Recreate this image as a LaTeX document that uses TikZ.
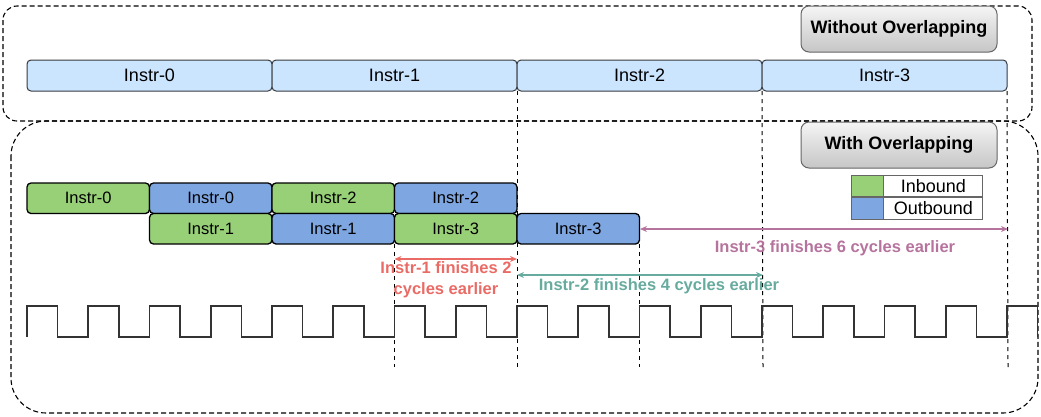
\documentclass[tikz,border=0pt]{standalone}
\usepackage{fontspec}
\setmainfont{Liberation Sans}
\usetikzlibrary{arrows.meta}
\definecolor{barblue}{HTML}{CCE5FF}
\definecolor{ingreen}{HTML}{97D077}
\definecolor{outblue}{HTML}{7EA6E0}
\definecolor{edgegray}{HTML}{36393D}
\definecolor{btnedge}{HTML}{666666}
\definecolor{redlbl}{HTML}{EA6B66}
\definecolor{greenlbl}{HTML}{67AB9F}
\definecolor{purplelbl}{HTML}{B5739D}
\definecolor{clockcol}{HTML}{333333}
\begin{document}
\begin{tikzpicture}[x=1pt,y=-1pt,
  frame/.style={draw=black, line width=1.1pt, dash pattern=on 5pt off 3pt},
  guide/.style={draw=black, line width=1pt, dash pattern=on 4pt off 4pt},
  bar/.style={draw=edgegray, fill=barblue, line width=1pt, rounded corners=4pt,
    minimum width=245pt, minimum height=31pt, inner sep=0pt, outer sep=0pt,
    font=\fontsize{18}{20}\selectfont},
  stage/.style={draw=black, line width=1.3pt, rounded corners=4pt,
    minimum width=122.5pt, minimum height=30.5pt, inner sep=0pt, outer sep=0pt,
    font=\fontsize{16.5}{18}\selectfont},
  inb/.style={stage, fill=ingreen},
  outb/.style={stage, fill=outblue},
  button/.style={draw=btnedge, line width=1pt, rounded corners=8pt,
    top color=gray!8, bottom color=gray!45,
    minimum width=196pt, minimum height=46pt, inner sep=0pt,
    font=\fontsize{18}{20}\selectfont\bfseries},
  legcell/.style={draw=btnedge, line width=0.8pt, minimum height=21.5pt,
    inner sep=0pt, font=\fontsize{18}{20}\selectfont},
  span/.style={{Stealth[length=7pt,width=6pt]}-{Stealth[length=7pt,width=6pt]}, line width=1.3pt},
  note/.style={font=\fontsize{16.5}{21}\selectfont\bfseries, align=center, inner sep=0pt},
  clock/.style={draw=clockcol, line width=1.6pt, line join=miter}
]
\useasboundingbox (0,0) rectangle (1041,416);

% group frames
\draw[frame, rounded corners=14pt] (3,6) rectangle (1032,121);
\draw[frame, rounded corners=35pt] (11,121) rectangle (1038,413);

% sequential execution bar
\node[bar] (t0) at (149.5,75.5) {Instr-0};
\node[bar] (t1) at (394.5,75.5) {Instr-1};
\node[bar] (t2) at (639.5,75.5) {Instr-2};
\node[bar] (t3) at (884.5,75.5) {Instr-3};

% guide lines down to the clock
\coordinate (gb1) at (517,367);
\coordinate (gb2) at (763,367);
\coordinate (gb3) at (1008,367);
\coordinate (gb4) at (394.5,367);
\coordinate (gb5) at (639.5,367);
\draw[guide] (t1.south east) -- (gb1);
\draw[guide] (t2.south east) -- (gb2);
\draw[guide] (t3.south east) -- (gb3);

% overlapped execution
\node[inb]  (a0) at (88.25,198.25)  {Instr-0};
\node[outb] (a1) at (210.75,198.25) {Instr-0};
\node[inb]  (a2) at (333.25,198.25) {Instr-2};
\node[outb] (a3) at (455.75,198.25) {Instr-2};
\node[inb]  (b1) at (210.75,228.75) {Instr-1};
\node[outb] (b2) at (333.25,228.75) {Instr-1};
\node[inb]  (b3) at (455.75,228.75) {Instr-3};
\node[outb] (b4) at (578.25,228.75) {Instr-3};

\draw[guide] (b3.south west) -- (gb4);
\draw[guide] (b4.south east) -- (gb5);

% titles
\node[button] (hdr1) at (899,29) {Without Overlapping};
\node[button] (hdr2) at (899,145) {With Overlapping};

% legend
\node[legcell, fill=ingreen, minimum width=32pt] (lg1) at (867,186) {};
\node[legcell, minimum width=99pt, anchor=west] (lt1) at (lg1.east) {Inbound};
\node[legcell, fill=outblue, minimum width=32pt, anchor=north] (lg2) at (lg1.south) {};
\node[legcell, minimum width=99pt, anchor=west] (lt2) at (lg2.east) {Outbound};

% savings
\coordinate (p1) at (640,229);
\coordinate (p2) at (1008,229);
\draw[span, purplelbl] (p1) -- (p2);
\node[note, text=purplelbl] (n3) at (835,248) {Instr-3 finishes 6 cycles earlier};

\coordinate (r1) at (394.5,259);
\coordinate (r2) at (517,259);
\draw[span, redlbl] (r1) -- (r2);
\node[note, text=redlbl] (n1) at (446,280) {Instr-1 finishes 2\\cycles earlier};

\coordinate (q1) at (517,275);
\coordinate (q2) at (763,275);
\draw[span, greenlbl] (q1) -- (q2);
\node[note, text=greenlbl] (n2) at (659,286) {Instr-2 finishes 4 cycles earlier};

% clock
\draw[clock] (27,337)
  \foreach \k in {0,...,16} {
    -- ({27+61.25*\k},337) -- ({27+61.25*\k},306)
    -- ({57.625+61.25*\k},306) -- ({57.625+61.25*\k},337)
  };
\end{tikzpicture}
\end{document}
